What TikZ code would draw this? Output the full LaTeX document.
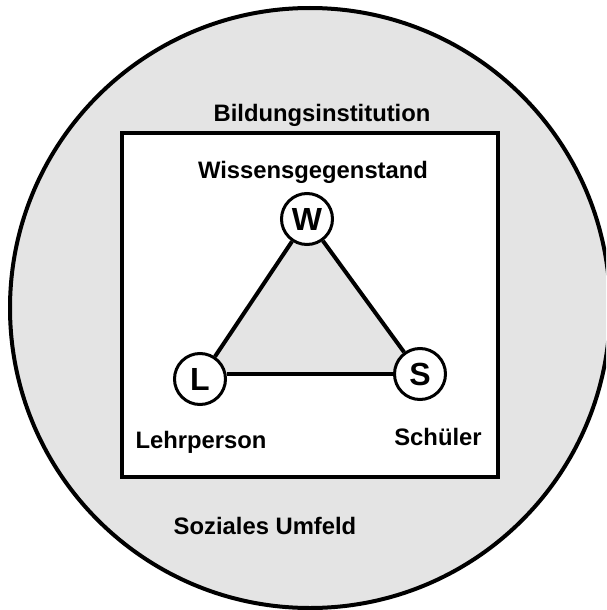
\documentclass[tikz,border=0pt]{standalone}
\usepackage{fontspec}
\setmainfont{Liberation Sans}
\definecolor{umfeld}{RGB}{228,228,228}
\begin{document}
\begin{tikzpicture}[x=1pt, y=-1pt, line width=4pt,
    every node/.style={font=\bfseries\fontsize{23.8}{28}\selectfont},
    vertex/.style={circle, draw, fill=white, minimum size=51pt, inner sep=0pt,
                   line width=3pt, font=\bfseries\fontsize{32}{36}\selectfont},
    textlabel/.style={anchor=base}]

    % Frame
    \useasboundingbox (0,0) rectangle (606,610);
    \clip (0,0) rectangle (606,610);

    % Social environment and institution
    \draw[fill=umfeld] (310,308) circle [radius=300pt];
    \draw[fill=white] (122,133) rectangle (498,477);

    % Triangle corners
    \coordinate (w) at (307,219);
    \coordinate (l) at (200,379);
    \coordinate (s) at (420,374);
    \fill[umfeld] (w) -- ([yshift=5pt]l) -- (s) -- cycle;

    % Nodes
    \node[vertex] (W) at (w) {W};
    \node[vertex] (L) at (l) {L};
    \node[vertex] (S) at (s) {S};

    % Edges
    \draw (W) -- (L);
    \draw ([yshift=5pt]L.east) -- (S.west);
    \draw (S) -- (W);

    % Labels
    \node[textlabel] (inst) at (322,121) {Bildungsinstitution};
    \node[textlabel] (wiss) at (313,178) {Wissensgegenstand};
    \node[textlabel] (lehr) at (201,448) {Lehrperson};
    \node[textlabel] (schue) at (438,445) {Schüler};
    \node[textlabel] (sozial) at (265,534) {Soziales Umfeld};
\end{tikzpicture}
\end{document}
